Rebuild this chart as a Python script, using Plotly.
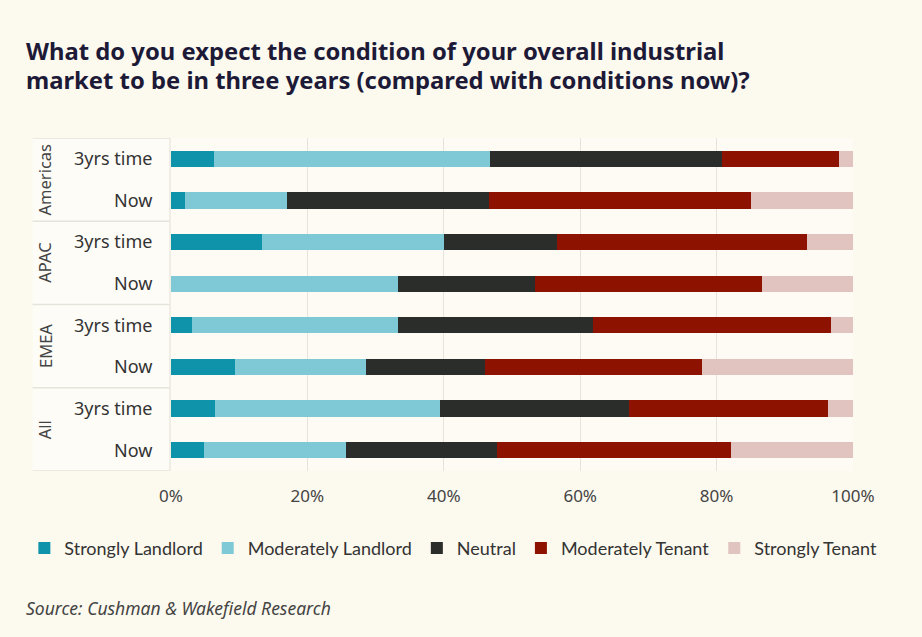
import plotly.graph_objects as go

regions = ["Americas", "Americas", "APAC", "APAC", "EMEA", "EMEA", "All", "All"]
periods = ["3yrs time", "Now", "3yrs time", "Now", "3yrs time", "Now", "3yrs time", "Now"]
group_names = ["Americas", "APAC", "EMEA", "All"]

strongly_landlord = [6.3, 2.1, 13.3, 0.0, 3.1, 9.4, 6.4, 4.9]
moderately_landlord = [40.5, 14.9, 26.7, 33.3, 30.2, 19.2, 33.0, 20.8]
neutral = [34.0, 29.7, 16.6, 20.0, 28.6, 17.4, 27.7, 22.1]
moderately_tenant = [17.1, 38.4, 36.7, 33.3, 34.9, 31.8, 29.3, 34.3]
strongly_tenant = [2.1, 14.9, 6.7, 13.4, 3.2, 22.2, 3.6, 17.9]

series_names = ["Strongly Landlord", "Moderately Landlord", "Neutral",
                "Moderately Tenant", "Strongly Tenant"]
series_values = [strongly_landlord, moderately_landlord, neutral,
                 moderately_tenant, strongly_tenant]
series_colors = ["#0f93ab", "#7fc8d6", "#2b2d2b", "#8e1200", "#e1c4bf"]

x_ticks = [0, 20, 40, 60, 80, 100]

title_lines = ["What do you expect the condition of your overall industrial",
               "market to be in three years (compared with conditions now)?"]
source_text = "Source: Cushman & Wakefield Research"

cats = [f"{r}|{p}" for r, p in zip(regions, periods)]

BG = "#fcf9ee"
FONT = "Noto Sans"
LEGFONT = "Lato"

fig = go.Figure()
for name, vals, col in zip(series_names, series_values, series_colors):
    fig.add_trace(go.Bar(
        x=vals, y=cats, orientation="h", name=name,
        marker=dict(color=col, line=dict(width=0)),
        hovertemplate="%{x:.1f}%<extra>" + name + "</extra>",
    ))

# label box geometry (paper coords along x)
box_x0 = -0.203
box_x1 = -0.0015
shapes = [dict(type="rect", xref="paper", yref="y", x0=box_x0, x1=box_x1,
               y0=-0.5, y1=len(cats) - 0.5, fillcolor="#fdfcf7",
               line=dict(width=0), layer="below")]
for i in range(len(group_names) + 1):
    yb = -0.5 + 2 * i
    shapes.append(dict(type="line", xref="paper", yref="y", x0=box_x0, x1=box_x1,
                       y0=yb, y1=yb, line=dict(color="#e6e3da", width=1.5)))
shapes.append(dict(type="line", xref="paper", yref="y", x0=box_x1, x1=box_x1,
                   y0=-0.5, y1=len(cats) - 0.5, line=dict(color="#ebe8df", width=1.5)))

annotations = []
for gi, g in enumerate(group_names):
    annotations.append(dict(
        text=g, xref="paper", yref="y", x=-0.185, y=2 * gi + 0.5,
        textangle=-90, showarrow=False, xanchor="center", yanchor="middle",
        font=dict(family=FONT, size=16.5, color="#444444")))

for line, shift in zip(title_lines, [87, 58]):
    annotations.append(dict(
        text="<b>" + line + "</b>",
        xref="paper", yref="paper", x=-0.216, y=1.0, xanchor="left", yanchor="middle",
        yshift=shift, align="left", showarrow=False,
        font=dict(family=FONT, size=23.8, color="#1d1a38")))
annotations.append(dict(
    text="<i>" + source_text + "</i>",
    xref="paper", yref="paper", x=-0.216, y=0, xanchor="left", yanchor="middle",
    yshift=-137, showarrow=False, align="left",
    font=dict(family=FONT, size=17.5, color="#444444")))

fig.update_layout(
    width=922, height=637,
    margin=dict(l=171, r=69, t=138, b=166),
    paper_bgcolor=BG, plot_bgcolor="#fdfbf3",
    barmode="stack", bargap=0.61,
    font=dict(family=FONT, size=17, color="#444444"),
    showlegend=True,
    legend=dict(orientation="h", x=-0.215, xanchor="left", y=-0.232, yanchor="middle",
                font=dict(family=LEGFONT, size=18, color="#333333"),
                itemwidth=30, bgcolor="rgba(0,0,0,0)", traceorder="normal"),
    shapes=shapes, annotations=annotations,
    xaxis=dict(range=[0, 100], tickvals=x_ticks, ticktext=[f"{v}%" for v in x_ticks],
               showgrid=True, gridcolor="#e6e3da", gridwidth=1, zeroline=False,
               showline=False, ticks="outside", ticklen=10, tickcolor="rgba(0,0,0,0)",
               tickfont=dict(family=FONT, size=17, color="#444444"), fixedrange=True),
    yaxis=dict(type="category", categoryorder="array", categoryarray=cats,
               range=[len(cats) - 0.5, -0.5], tickvals=cats, ticktext=periods,
               showgrid=False, zeroline=False, showline=False,
               ticks="outside", ticklen=14, tickcolor="rgba(0,0,0,0)",
               tickfont=dict(family=FONT, size=18, color="#333333"), fixedrange=True),
)

fig.write_html("out.html")
